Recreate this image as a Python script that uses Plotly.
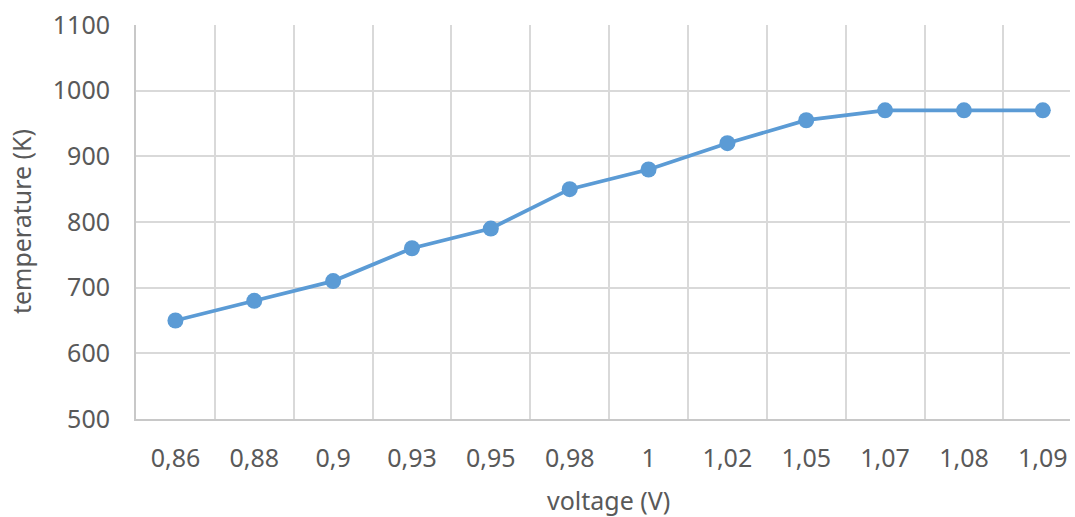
import plotly.graph_objects as go

voltage_labels = ["0,86", "0,88", "0,9", "0,93", "0,95", "0,98", "1", "1,02", "1,05", "1,07", "1,08", "1,09"]
temperature_k = [650, 680, 710, 760, 790, 850, 880, 920, 955, 970, 970, 970]

TXT = "#595959"
FONT = "Noto Sans"

fig = go.Figure()
fig.add_trace(go.Scatter(
    x=voltage_labels, y=temperature_k, mode="lines+markers",
    line=dict(color="#5b9bd5", width=3.8),
    marker=dict(color="#5b9bd5", size=16),
    showlegend=False,
))

fig.update_layout(
    width=1075, height=517,
    margin=dict(l=136, r=5, t=25, b=98),
    paper_bgcolor="white", plot_bgcolor="white",
    font=dict(family=FONT, color=TXT, size=25),
    xaxis=dict(
        type="category", tickson="boundaries", range=[-0.5, 11.345],
        showgrid=True, gridcolor="#d9d9d9", gridwidth=2,
        showline=True, linecolor="#c8c8c8", linewidth=2,
        ticks="", ticklabelstandoff=16, automargin=False,
        tickfont=dict(size=25, color=TXT, family=FONT),
        zeroline=False,
    ),
    yaxis=dict(
        range=[500, 1100], dtick=100,
        showgrid=True, gridcolor="#d9d9d9", gridwidth=2,
        showline=True, linecolor="#c8c8c8", linewidth=2,
        ticks="", ticklabelstandoff=19, automargin=False,
        tickfont=dict(size=25, color=TXT, family=FONT),
        zeroline=False,
    ),
    annotations=[
        dict(text="voltage (V)", xref="paper", yref="paper", x=0.506, y=-0.2056,
             xanchor="center", yanchor="middle", showarrow=False,
             font=dict(size=25, color=TXT, family=FONT)),
        dict(text="temperature (K)", xref="paper", yref="paper", x=-0.1230, y=0.5,
             xanchor="center", yanchor="middle", showarrow=False, textangle=-90,
             font=dict(size=25, color=TXT, family=FONT)),
    ],
)

fig.write_html("out.html", config={"displayModeBar": False},
               post_script="document.body.style.margin='0';")
